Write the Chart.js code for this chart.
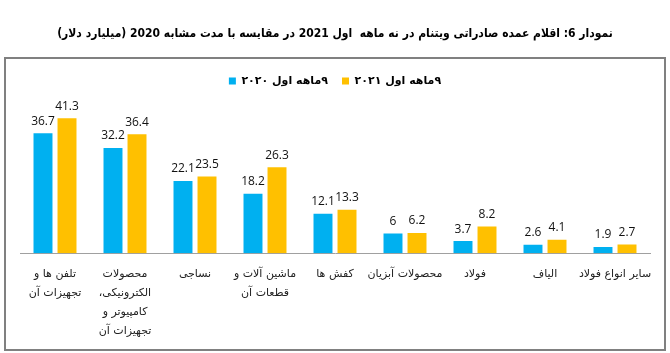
<!DOCTYPE html>
<html>
<head>
<meta charset="utf-8">
<script src="https://cdn.jsdelivr.net/npm/chart.js@4/dist/chart.umd.min.js"></script>
<style>
  body { margin: 0; background: #fff; }
  #wrap { width: 670px; height: 353px; }
</style>
</head>
<body>
<div id="wrap"><canvas id="chart" dir="rtl" width="670" height="353"></canvas></div>
<script>
const categories = [
  ['تلفن ها و', 'تجهیزات آن'],
  ['محصولات', 'الکترونیکی،', 'کامپیوتر و', 'تجهیزات آن'],
  'نساجی',
  ['ماشین آلات و', 'قطعات آن'],
  'کفش ها',
  'محصولات آبزیان',
  'فولاد',
  'الیاف',
  'سایر انواع فولاد',
];
const seriesNames = ['۹ماهه اول ۲۰۲۰', '۹ماهه اول ۲۰۲۱'];
const values2020 = [36.7, 32.2, 22.1, 18.2, 12.1, 6, 3.7, 2.6, 1.9];
const values2021 = [41.3, 36.4, 23.5, 26.3, 13.3, 6.2, 8.2, 4.1, 2.7];
const titleText = 'نمودار 6: اقلام عمده صادراتی ویتنام در نه ماهه  اول 2021 در مقایسه با مدت مشابه 2020 (میلیارد دلار)';

// white background + grey frame around plot + legend
const framePlugin = {
  id: 'frame',
  beforeDraw(chart) {
    const ctx = chart.ctx;
    ctx.save();
    ctx.fillStyle = '#fff';
    ctx.fillRect(0, 0, chart.width, chart.height);
    ctx.strokeStyle = '#808080';
    ctx.lineWidth = 2;
    ctx.strokeRect(5, 58, 660, 292);
    ctx.restore();
  },
};

// value labels above bars
const valueLabels = {
  id: 'valueLabels',
  afterDatasetsDraw(chart) {
    const ctx = chart.ctx;
    ctx.save();
    ctx.font = '12px "Open Sans", sans-serif';
    ctx.fillStyle = '#111';
    ctx.textAlign = 'center';
    ctx.textBaseline = 'bottom';
    chart.data.datasets.forEach((ds, i) => {
      chart.getDatasetMeta(i).data.forEach((bar, j) => {
        ctx.fillText(String(ds.data[j]), bar.x, bar.y - 6);
      });
    });
    ctx.restore();
  },
};

new Chart(document.getElementById('chart').getContext('2d'), {
  type: 'bar',
  data: {
    labels: categories,
    datasets: [
      {
        label: '\u200F' + seriesNames[0],
        data: values2020,
        backgroundColor: '#00B0F0',
        categoryPercentage: 0.686,
        barPercentage: 0.79,
      },
      {
        label: '\u200F' + seriesNames[1],
        data: values2021,
        backgroundColor: '#FFC000',
        categoryPercentage: 0.686,
        barPercentage: 0.79,
      },
    ],
  },
  options: {
    responsive: false,
    animation: false,
    devicePixelRatio: 1,
    layout: { padding: { left: 20, right: 20, top: 0, bottom: 9 } },
    plugins: {
      title: {
        display: true,
        text: titleText,
        color: '#000',
        font: { family: '"DejaVu Sans Condensed", "DejaVu Sans"', size: 12, weight: 'bold' },
        padding: { top: 27, bottom: 20 },
      },
      legend: {
        display: true,
        position: 'top',
        labels: {
          boxWidth: 7,
          boxHeight: 7,
          padding: 14,
          color: '#000',
          font: { family: 'DejaVu Sans', size: 11, weight: 'bold' },
        },
      },
      tooltip: { enabled: false },
    },
    scales: {
      x: {
        grid: { display: false },
        border: { color: '#a0a0a0', width: 1 },
        ticks: {
          autoSkip: false,
          maxRotation: 0,
          padding: 4,
          color: '#222',
          font: { family: 'DejaVu Sans', size: 11, lineHeight: 1.7 },
        },
      },
      y: {
        display: false,
        beginAtZero: true,
        max: 48,
      },
    },
  },
  plugins: [framePlugin, valueLabels],
});
</script>
</body>
</html>
